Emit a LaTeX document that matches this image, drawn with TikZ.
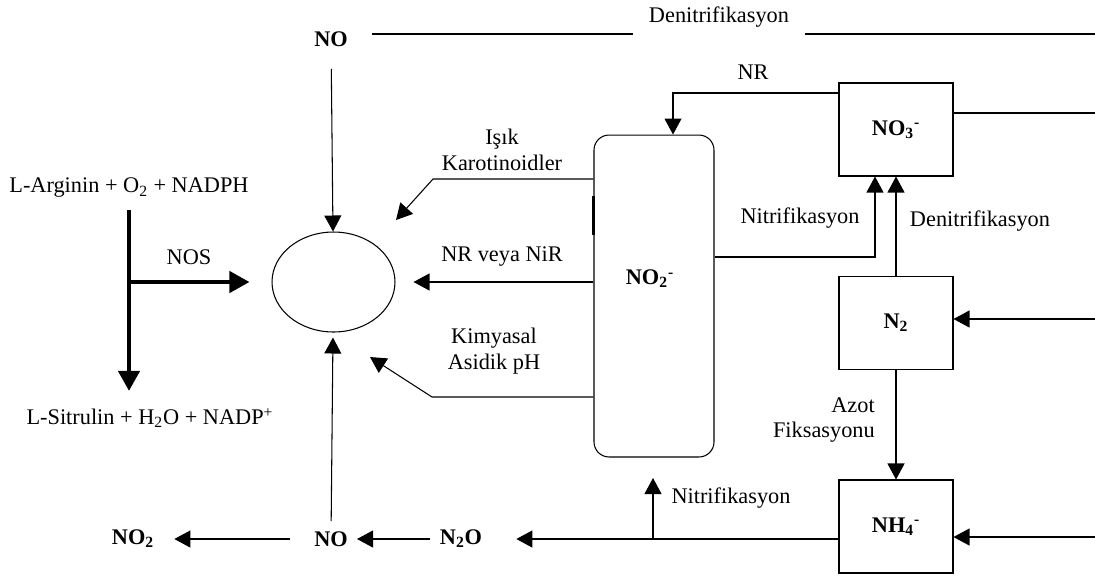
\documentclass[tikz,border=0pt]{standalone}
\usepackage{fontspec}
\setmainfont{Liberation Serif}
\usetikzlibrary{arrows.meta,shapes.geometric}

\newcommand{\ionlbl}[3]{#1\textsubscript{#2}\textsuperscript{#3}}

\begin{document}
\begin{tikzpicture}[x=0.02cm,y=-0.02cm,line width=0.6pt,
  arr/.style={-{Triangle[length=0.32cm,width=0.34cm]}},
  fatarr/.style={line width=2.4pt,-{Triangle[length=0.4cm,width=0.42cm]}},
  box/.style={draw,minimum width=2.28cm,minimum height=1.86cm,inner sep=0pt,
    font=\fontsize{12.7}{14.7}\selectfont\bfseries},
  lbl/.style={font=\fontsize{12.7}{14.7}\selectfont,align=center,inner sep=1pt},
  chem/.style={font=\fontsize{12.7}{14.7}\selectfont\bfseries,inner sep=1pt}]
\useasboundingbox (0,0) rectangle (1095,576);

% species
\node[chem] (notop) at (331,39) {NO};
\node[lbl,inner xsep=9pt] (denit) at (719,17) {Denitrifikasyon};
\node[draw,ellipse,minimum width=2.46cm,minimum height=2cm,inner sep=0pt] (no) at (333.5,282) {};
\node[draw,rounded corners=0.3cm,minimum width=2.4cm,minimum height=6.44cm] (no2) at (654,296) {};
\node[chem] at (650,279) {\ionlbl{NO}{2}{-}};
\node[box] (no3) at (896,129.5) {\ionlbl{NO}{3}{-}};
\node[box] (n2) at (896,323) {N\textsubscript{2}};
\node[box] (nh4) at (896,526.5) {\ionlbl{NH}{4}{-}};
\node[lbl] (arg) at (129,188) {L-Arginin + O\textsubscript{2} + NADPH};
\node[lbl] (sit) at (150,418) {L-Sitrulin + H\textsubscript{2}O + NADP\textsuperscript{+}};
\node[chem] (nobot) at (331,539) {NO};
\node[chem] (n2o) at (461,539) {N\textsubscript{2}O};
\node[chem] (no2bot) at (133,539) {NO\textsubscript{2}};

% labels
\node[lbl] at (502,150) {Işık\\Karotinoidler};
\node[lbl] at (189,257) {NOS};
\node[lbl] at (502,257) {NR veya NiR};
\node[lbl] at (494,351) {Kimyasal\\Asidik pH};
\node[lbl] at (753,72) {NR};
\node[lbl] at (800,218) {Nitrifikasyon};
\node[lbl] at (980,221) {Denitrifikasyon};
\node[lbl,anchor=east,align=right] at (877,420) {Azot\\Fiksasyonu};
\node[lbl] at (731,498) {Nitrifikasyon};

% bends and free ends
\coordinate (dl) at (372,34);
\coordinate (dr) at (1095,34);
\coordinate (karbend) at (433,179);
\coordinate (kartip) at (396,220);
\coordinate (kimbend) at (432,397);
\coordinate (kimtip) at (370,357);
\coordinate (nrbend) at (673,93);
\coordinate (no3out) at (1095,113);
\coordinate (nitbend) at (875,257);
\coordinate (n2in) at (1095,319);
\coordinate (nh4in) at (1095,537);
\coordinate (nitlow) at (653,539);
\coordinate (nittip) at (653,478);

% connectors
\draw (dl) -- (dl -| denit.west);
\draw (denit.east |- dr) -- (dr);
\draw[arr,shorten <=0.4cm] (notop) -- (no);
\draw[fatarr,shorten <=0.2cm,shorten >=0.3cm] (arg.south) -- (arg |- sit.north);
\draw[fatarr,shorten >=0.44cm] (arg |- no) -- (no.west);
\draw[arr] (karbend -| no2.west) -- (karbend) -- (kartip);
\draw[line width=1.6pt] (no2.west |- 0,196) -- (no2.west |- 0,235);
\draw[arr,shorten >=0.36cm] (no2.west |- no) -- (no.east);
\draw[arr] (kimbend -| no2.west) -- (kimbend) -- (kimtip);
\draw[arr] (no3.west |- nrbend) -- (nrbend) -- (nrbend |- no2.north);
\draw (no3out -| no3.east) -- (no3out);
\draw[arr] (no2.east |- nitbend) -- (nitbend) -- (nitbend |- no3.south);
\draw[arr] (n2.north) -- (no3.south);
\draw[arr] (n2in) -- (n2.east |- n2in);
\draw[arr] (n2) -- (nh4);
\draw[arr] (nh4in) -- (nh4.east |- nh4in);
\draw[arr,shorten >=0.64cm] (nh4.west |- n2o) -- (n2o);
\draw[arr] (nitlow) -- (nittip);
\draw[arr,shorten <=0.16cm,shorten >=0.14cm] (n2o) -- (nobot);
\draw[arr,shorten <=0.44cm,shorten >=0.36cm] (nobot) -- (no2bot);
\draw[arr,shorten <=0.16cm,shorten >=0.1cm] (nobot) -- (no);
\end{tikzpicture}
\end{document}
